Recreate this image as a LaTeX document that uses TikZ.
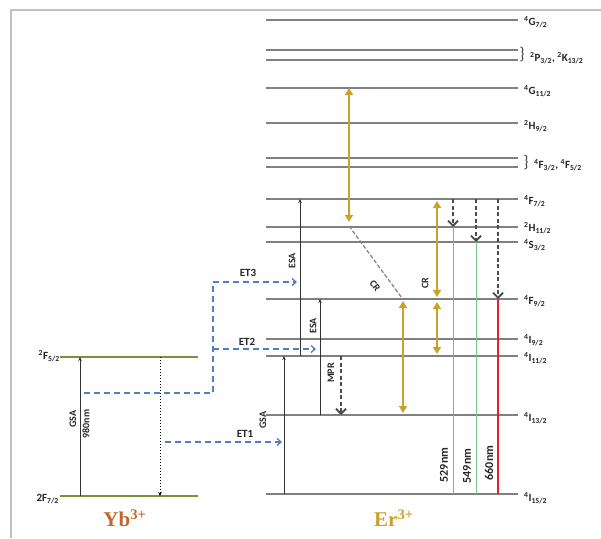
\documentclass[tikz,border=0pt]{standalone}
\usepackage{fontspec}
\setmainfont{Carlito}
\newfontfamily\ionfont{Liberation Serif}
\usetikzlibrary{arrows.meta,calc}
\definecolor{lvl}{HTML}{808080}
\definecolor{ybg}{HTML}{77933C}
\definecolor{erGold}{HTML}{C9A227}
\definecolor{etblue}{HTML}{4F7FC0}
\definecolor{ybText}{HTML}{C0682A}
\definecolor{frameGray}{HTML}{C0C0C0}
\definecolor{olv}{HTML}{A8A47A}
\definecolor{grn}{HTML}{7CC48A}
\definecolor{redl}{HTML}{E8202A}
\tikzset{
  level/.style={draw=lvl, line width=1.6pt},
  yblevel/.style={draw=ybg, line width=1.8pt},
  lab/.style={font=\fontsize{11}{12}\selectfont\bfseries, inner sep=0pt, anchor=west, text=black!85},
  rlab/.style={font=\fontsize{10}{11}\selectfont\bfseries, rotate=90, inner sep=0pt, text=black!85},
  wlab/.style={font=\fontsize{12}{13}\selectfont\bfseries, rotate=90, inner sep=0pt, text=black!85},
  etlab/.style={font=\fontsize{11}{12}\selectfont\bfseries, inner sep=0pt, text=black!85},
  thinarr/.style={draw=black!80, line width=0.9pt, -{Stealth[length=4pt,width=3.5pt]}},
  etline/.style={draw=etblue, line width=1.3pt, dash pattern=on 6pt off 4pt},
  etarr/.style={etline, -{Straight Barb[length=4pt,width=7pt]}},
  goldarr/.style={draw=erGold, line width=2.6pt, {Triangle[length=7pt,width=8pt]}-{Triangle[length=7pt,width=8pt]}},
  emdash/.style={draw=black!70, line width=1.8pt, dash pattern=on 4pt off 2.5pt, -{Straight Barb[length=5pt,width=10pt]}},
  emline/.style={line width=0.9pt},
  brace/.style={font=\fontsize{17}{17}\selectfont, inner sep=0pt, text=black!70},
  ion/.style={font=\ionfont\fontsize{21}{22}\selectfont\bfseries, inner sep=0pt},
}
\begin{document}
\begin{tikzpicture}[x=1pt,y=-1pt]
\useasboundingbox (0,0) rectangle (601,538);
% frame
\draw[frameGray, line width=2.5pt] (11,538) -- (11,10) -- (601,10);

% Er levels
\foreach \n/\y in {G7/20,P3/50,K13/60,G11/88,H9/123,F3/158,F5/167,F7/199,H11/227,S3/242,F9/299,I9/339,I11/356,I13/415,I15/494}{
  \draw[level] (266,\y) coordinate (\n-l) -- (518,\y) coordinate (\n);
}
% Er level labels
\node[lab] (tG7) at (524,22) {\textsuperscript{4}G\textsubscript{7/2}};
\node[brace] (br1) at (522,55) {\}};
\node[lab] (tPK) at (530,58) {\textsuperscript{2}P\textsubscript{3/2}, \textsuperscript{2}K\textsubscript{13/2}};
\node[lab] (tG11) at (524,91) {\textsuperscript{4}G\textsubscript{11/2}};
\node[lab] (tH9) at (524,126) {\textsuperscript{2}H\textsubscript{9/2}};
\node[brace] (br2) at (526,163) {\}};
\node[lab] (tF35) at (534,165) {\textsuperscript{4}F\textsubscript{3/2}, \textsuperscript{4}F\textsubscript{5/2}};
\node[lab] (tF7) at (524,201) {\textsuperscript{4}F\textsubscript{7/2}};
\node[lab] (tH11) at (524,228) {\textsuperscript{2}H\textsubscript{11/2}};
\node[lab] (tS3) at (524,245) {\textsuperscript{4}S\textsubscript{3/2}};
\node[lab] (tF9) at (524,301) {\textsuperscript{4}F\textsubscript{9/2}};
\node[lab] (tI9) at (524,340) {\textsuperscript{4}I\textsubscript{9/2}};
\node[lab] (tI11) at (524,358) {\textsuperscript{4}I\textsubscript{11/2}};
\node[lab] (tI13) at (524,418) {\textsuperscript{4}I\textsubscript{13/2}};
\node[lab] (tI15) at (524,498) {\textsuperscript{4}I\textsubscript{15/2}};

% Yb levels
\draw[yblevel] (60,357) coordinate (Yb5-l) -- (198,357) coordinate (Yb5);
\draw[yblevel] (60,496) coordinate (Yb7-l) -- (198,496) coordinate (Yb7);
\node[lab, anchor=east] (tYb5) at (60,356) {\textsuperscript{2}F\textsubscript{5/2}};
\node[lab, anchor=east] (tYb7) at (59,499) {2F\textsubscript{7/2}};

% Yb GSA and relaxation
\draw[thinarr] (80,0 |- Yb7) -- (80,0 |- Yb5);
\node[rlab] (tYbGSA) at (73,419) {GSA};
\node[rlab] (tYb980) at (86,424) {980nm};
\draw[draw=black, line width=1pt, dotted, -{Stealth[length=4pt,width=3.5pt]}] (160,0 |- Yb5) -- (160,0 |- Yb7);

% Energy transfer paths
\coordinate (etA) at (84,393);
\coordinate (etB) at (213,393);
\coordinate (etC) at (213,282);
\coordinate (etD) at (213,349);
\coordinate (et3end) at (297,282);
\coordinate (et2end) at (316,349);
\coordinate (et1start) at (165,442);
\coordinate (et1end) at (282,442);
\draw[etline] (etA) -- (etB) -- (etC);
\draw[etarr] (etC) -- (et3end);
\draw[etarr] (etD) -- (et2end);
\draw[etarr] (et1start) -- (et1end);
\node[etlab] (tET3) at (248,273) {ET3};
\node[etlab] (tET2) at (247,342) {ET2};
\node[etlab] (tET1) at (245,434) {ET1};

% Er GSA / ESA
\draw[thinarr] (284,0 |- I15) -- (284,0 |- I11);
\node[rlab] (tGSA) at (263,420) {GSA};
\draw[thinarr] (300,0 |- I11) -- (300,0 |- F7);
\node[rlab] (tESA1) at (292,261) {ESA};
\draw[thinarr] (320,0 |- I13) -- (320,0 |- F9);
\node[rlab] (tESA2) at (313,326) {ESA};

% MPR
\draw[emdash] (341,0 |- I11) -- (341,0 |- I13);
\node[rlab] (tMPR) at (331,373) {MPR};

% Cross relaxation (gold)
\draw[goldarr] (349,0 |- G11) -- (349,222);
\draw[draw=lvl, line width=1.2pt, dash pattern=on 4pt off 2pt] (349,226) coordinate (cr1) -- (402,298) coordinate (cr2);
\node[rlab, rotate=-144] (tCR1) at (375,286) {CR};
\draw[goldarr] (403,301) -- (403,413);
\draw[goldarr] (437,201) -- (437,297);
\draw[goldarr] (437,302) -- (437,354);
\node[rlab] (tCR2) at (425,283) {CR};

% emissions
\draw[emdash] (453,0 |- F7) -- (453,0 |- H11);
\draw[emline, draw=olv] (453,0 |- H11) -- (453,0 |- I15);
\node[wlab] (t529) at (444,465) {529nm};
\draw[emdash] (476,0 |- F7) -- (476,0 |- S3);
\draw[emline, draw=grn] (476,0 |- S3) -- (476,0 |- I15);
\node[wlab] (t549) at (467,466) {549nm};
\draw[emdash] (498,0 |- F7) -- (498,0 |- F9);
\draw[emline, draw=redl, line width=1.3pt] (498,0 |- F9) -- (498,0 |- I15);
\node[wlab] (t660) at (489,463) {660nm};

% ion labels
\node[ion, text=ybText] (tYb) at (125,518) {Yb\textsuperscript{3+}};
\node[ion, text=erGold] (tEr) at (394,518) {Er\textsuperscript{3+}};
\end{tikzpicture}
\end{document}
